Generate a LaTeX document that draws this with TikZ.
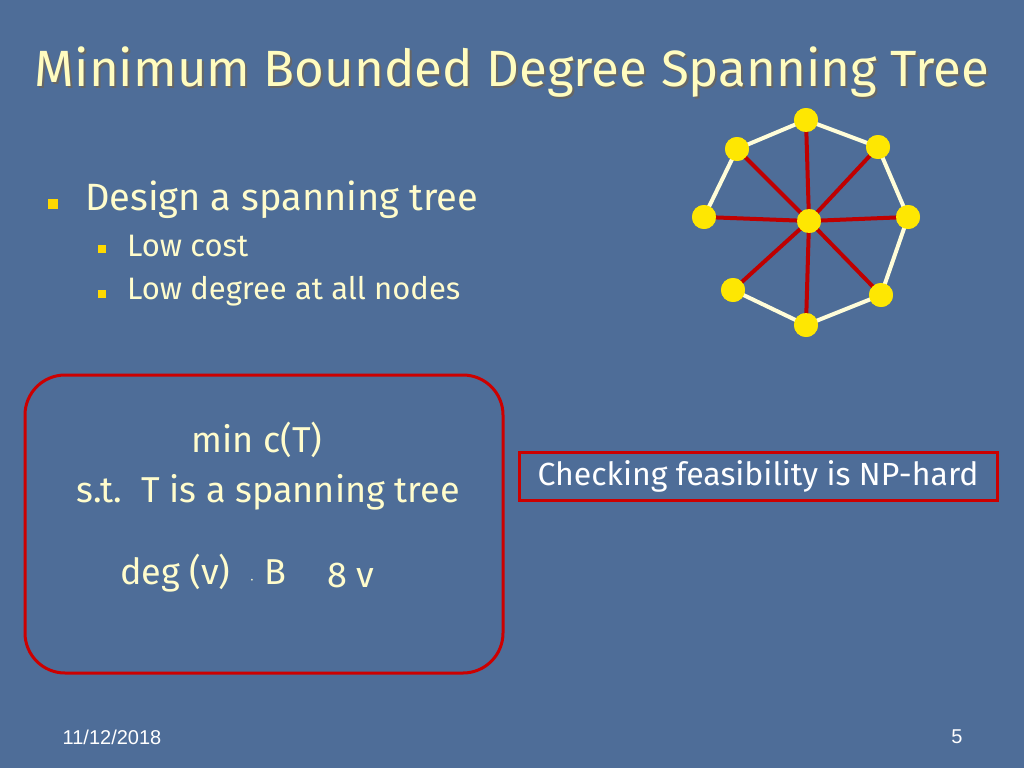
\documentclass[tikz,border=0pt]{standalone}
\usepackage{fontspec}
\setmainfont{Fira Sans}
\newfontfamily\footf{Liberation Sans}
\begin{document}
\begin{tikzpicture}[x=1pt,y=-1pt,
  txt/.style={text=yellow!20!white,font=\fontsize{36}{40}\selectfont,inner sep=0},
  sub/.style={text=yellow!20!white,font=\fontsize{31}{34}\selectfont,inner sep=0,anchor=west},
  bul/.style={fill=orange!30!yellow,minimum size=10pt,inner sep=0},
  vtx/.style={circle,fill=yellow!90!orange,minimum size=24pt,inner sep=0},
  cream/.style={draw=yellow!15!white,line width=4pt},
  redl/.style={draw=red!75!black,line width=4pt}]
\fill[fill={rgb,255:red,78;green,109;blue,152}] (0,0) rectangle (1024,768);
\useasboundingbox (0,0) rectangle (1024,768);
\node[text=black!60,font=\fontsize{51}{56}\selectfont,inner sep=0] at (514,74) {Minimum Bounded Degree Spanning Tree};
\node[text=yellow!25!white,font=\fontsize{51}{56}\selectfont,inner sep=0] (title) at (512,72) {Minimum Bounded Degree Spanning Tree};
\node[bul] (b1) at (53,204) {};
\node[txt,anchor=west,font=\fontsize{38}{42}\selectfont] (t1) at (85,200) {Design a spanning tree};
\node[bul,minimum size=8pt] (b2) at (102,249) {};
\node[sub] (t2) at (127,246) {Low cost};
\node[bul,minimum size=8pt] (b3) at (102,294) {};
\node[sub] (t3) at (127,291) {Low degree at all nodes};
% graph
\node[vtx] (n1) at (806,120) {};
\node[vtx] (n2) at (878,147) {};
\node[vtx] (n3) at (908,217) {};
\node[vtx] (n4) at (881,295) {};
\node[vtx] (n5) at (806,325) {};
\node[vtx] (n6) at (733,290) {};
\node[vtx] (n7) at (704,217) {};
\node[vtx] (n8) at (737,149) {};
\node[vtx] (c) at (809,221) {};
\foreach \a/\b in {n7/n8,n8/n1,n1/n2,n2/n3,n3/n4,n4/n5,n5/n6}{\draw[cream] (\a.center) -- (\b.center);}
\foreach \a in {n1,n2,n3,n4,n5,n6,n7,n8}{\draw[redl] (c.center) -- (\a.center);}
\foreach \a in {n1,n2,n3,n4,n5,n6,n7,n8,c}{\fill[yellow!90!orange] (\a) circle (12);}
% boxes
\draw[red!80!black,line width=3pt,rounded corners=40] (25,375) rectangle (503,673);
\node[txt] (m1) at (257,440) {min c(T)};
\node[txt] (m2) at (268,492) {s.t.\ \ T is a spanning tree};
\node[txt,anchor=west] (m3) at (120,573) {deg (v)\ \ {\fontsize{18}{18}\selectfont$\cdot$} B};
\node[txt,anchor=west] (m4) at (327,575) {8 v};
\node[draw=red!80!black,line width=3pt,minimum width=478,minimum height=48,inner sep=0,
  text=white,font=\fontsize{32}{36}\selectfont] (np) at (758,476) {Checking feasibility is NP-hard};
\node[text=white,font=\footf\fontsize{20}{22}\selectfont,inner sep=0] (d) at (112,737) {11/12/2018};
\node[text=white,font=\footf\fontsize{20}{22}\selectfont,inner sep=0] (p) at (957,737) {5};
\end{tikzpicture}
\end{document}
